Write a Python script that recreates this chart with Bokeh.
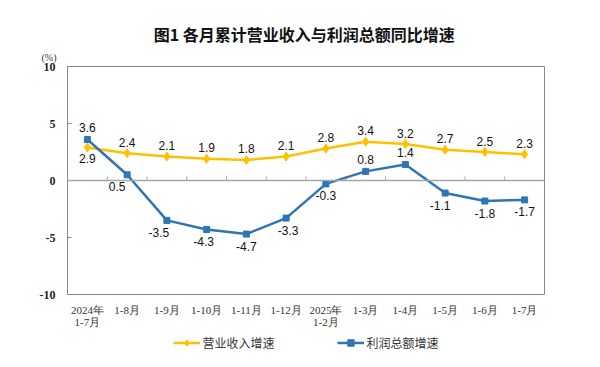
from bokeh.plotting import figure
from bokeh.layouts import column
from bokeh.models import (Range1d, FixedTicker, ColumnDataSource, LabelSet, Title,
                          Legend, LegendItem, Span)
from bokeh.core.properties import value
from bokeh.embed import file_html
from bokeh.resources import INLINE

# ---- data ----
categories = ["2024年\n1-7月", "1-8月", "1-9月", "1-10月", "1-11月", "1-12月",
              "2025年\n1-2月", "1-3月", "1-4月", "1-5月", "1-6月", "1-7月"]
revenue = [2.9, 2.4, 2.1, 1.9, 1.8, 2.1, 2.8, 3.4, 3.2, 2.7, 2.5, 2.3]
profit = [3.6, 0.5, -3.5, -4.3, -4.7, -3.3, -0.3, 0.8, 1.4, -1.1, -1.8, -1.7]
y_ticks = [-10, -5, 0, 5, 10]
series_names = ["营业收入增速", "利润总额增速"]
title_text = "图1  各月累计营业收入与利润总额同比增速"
unit_text = "(%)"

# label placement (style): +1 above, -1 below
rev_side = [-1, 1, 1, 1, 1, 1, 1, 1, 1, 1, 1, 1]
prof_side = [1, -1, -1, -1, -1, -1, -1, 1, 1, -1, -1, -1]
prof_dx = [0, -10, -8, -3, 0, 2, 0, 0, 0, -5, 0, 0]

YELLOW = "#FFC000"
BLUE = "#2E75B6"
GRAY = "#A6A6A6"

n = len(categories)
xs = list(range(n))

p = figure(width=592, height=333, output_backend="svg", toolbar_location=None,
           x_range=Range1d(-0.5, n - 0.5), y_range=Range1d(-10, 10),
           min_border_left=67, min_border_right=48, min_border_top=66,
           min_border_bottom=39, background_fill_color="white",
           border_fill_color="white")
p.grid.visible = False
p.outline_line_color = "#888888"
p.outline_line_width = 1

# unit label (closest to frame), then main title
p.add_layout(Title(text=unit_text, align="left", offset=-26,
                   text_font="Liberation Serif", text_font_size="10px",
                   text_font_style="normal", text_color="#333333",
                   standoff=8), "above")
p.add_layout(Title(text=title_text, align="center",
                   text_font="Noto Sans CJK SC", text_font_size="16px",
                   text_font_style="bold", text_color="#111111",
                   standoff=0), "above")
p.title.visible = False

# y axis
p.yaxis.ticker = FixedTicker(ticks=y_ticks)
p.yaxis.major_label_overrides = {t: str(t) for t in y_ticks}
p.yaxis.major_tick_in = 4
p.yaxis.major_tick_out = 0
p.yaxis.minor_tick_line_color = None
p.yaxis.axis_line_color = "#888888"
p.yaxis.major_tick_line_color = "#888888"
p.yaxis.major_label_standoff = 12
p.yaxis.major_label_text_font = "Liberation Serif"
p.yaxis.major_label_text_font_style = "bold"
p.yaxis.major_label_text_font_size = "12px"
p.yaxis.major_label_text_color = "#222222"

# x axis
p.xaxis.ticker = FixedTicker(ticks=xs)
p.xaxis.major_label_overrides = {i: c for i, c in enumerate(categories)}
p.xaxis.major_tick_line_color = None
p.xaxis.minor_tick_line_color = None
p.xaxis.axis_line_color = None
p.xaxis.major_label_standoff = 3
p.xaxis.major_label_text_font = "Liberation Serif"
p.xaxis.major_label_text_font_size = "11px"
p.xaxis.major_label_text_line_height = 1.0
p.xaxis.major_label_text_color = "#333333"

# zero line with category-boundary ticks
p.add_layout(Span(location=0, dimension="width", line_color=GRAY, line_width=1.5))
bounds = [i + 0.5 for i in range(n - 1)]
p.segment(x0=bounds, y0=[0] * len(bounds), x1=bounds, y1=[0.35] * len(bounds),
          line_color=GRAY, line_width=1)

# series
p.line(xs, revenue, line_color=YELLOW, line_width=2.5)
p.scatter(xs, revenue, marker="diamond", size=9, color=YELLOW)
p.line(xs, profit, line_color=BLUE, line_width=2.5)
p.scatter(xs, profit, marker="square", size=6, color=BLUE)

# data labels
src_r = ColumnDataSource(dict(x=xs, y=revenue, t=[f"{v:.1f}" for v in revenue],
                              dy=[11 * s for s in rev_side]))
src_p = ColumnDataSource(dict(x=xs, y=profit, t=[f"{v:.1f}" for v in profit],
                              dy=[12 * s for s in prof_side], dx=prof_dx))
for src, has_dx in ((src_r, False), (src_p, True)):
    ls = LabelSet(x="x", y="y", text="t", source=src, y_offset="dy",
                  x_offset="dx" if has_dx else 0,
                  text_align="center", text_baseline="middle",
                  text_font=value("Liberation Sans"), text_font_size="12px",
                  text_color="#111111")
    p.add_layout(ls)

# legend strip: a small figure whose frame holds the legend
# (series are plotted there too, but outside its visible ranges)
lf = figure(width=592, height=18, output_backend="svg", toolbar_location=None,
            min_border=0, min_border_left=20,
            x_range=Range1d(100, 101), y_range=Range1d(100, 101))
lf.axis.visible = False
lf.grid.visible = False
lf.outline_line_color = None
l_r_line = lf.line(xs, revenue, line_color=YELLOW, line_width=2.5)
l_r_mark = lf.scatter(xs, revenue, marker="diamond", size=7, color=YELLOW)
l_p_line = lf.line(xs, profit, line_color=BLUE, line_width=2.5)
l_p_mark = lf.scatter(xs, profit, marker="square", size=5, color=BLUE)
legend = Legend(items=[LegendItem(label=series_names[0], renderers=[l_r_line, l_r_mark]),
                       LegendItem(label=series_names[1], renderers=[l_p_line, l_p_mark])],
                orientation="horizontal", location="center",
                glyph_width=27, glyph_height=16, label_standoff=3, spacing=62,
                padding=0, margin=0, border_line_color=None,
                background_fill_alpha=0, label_height=16,
                label_text_font="Noto Sans CJK SC", label_text_font_size="12px",
                label_text_color="#333333")
lf.add_layout(legend)

layout = column(p, lf, spacing=0)
open("out.html", "w").write(file_html(layout, INLINE))
